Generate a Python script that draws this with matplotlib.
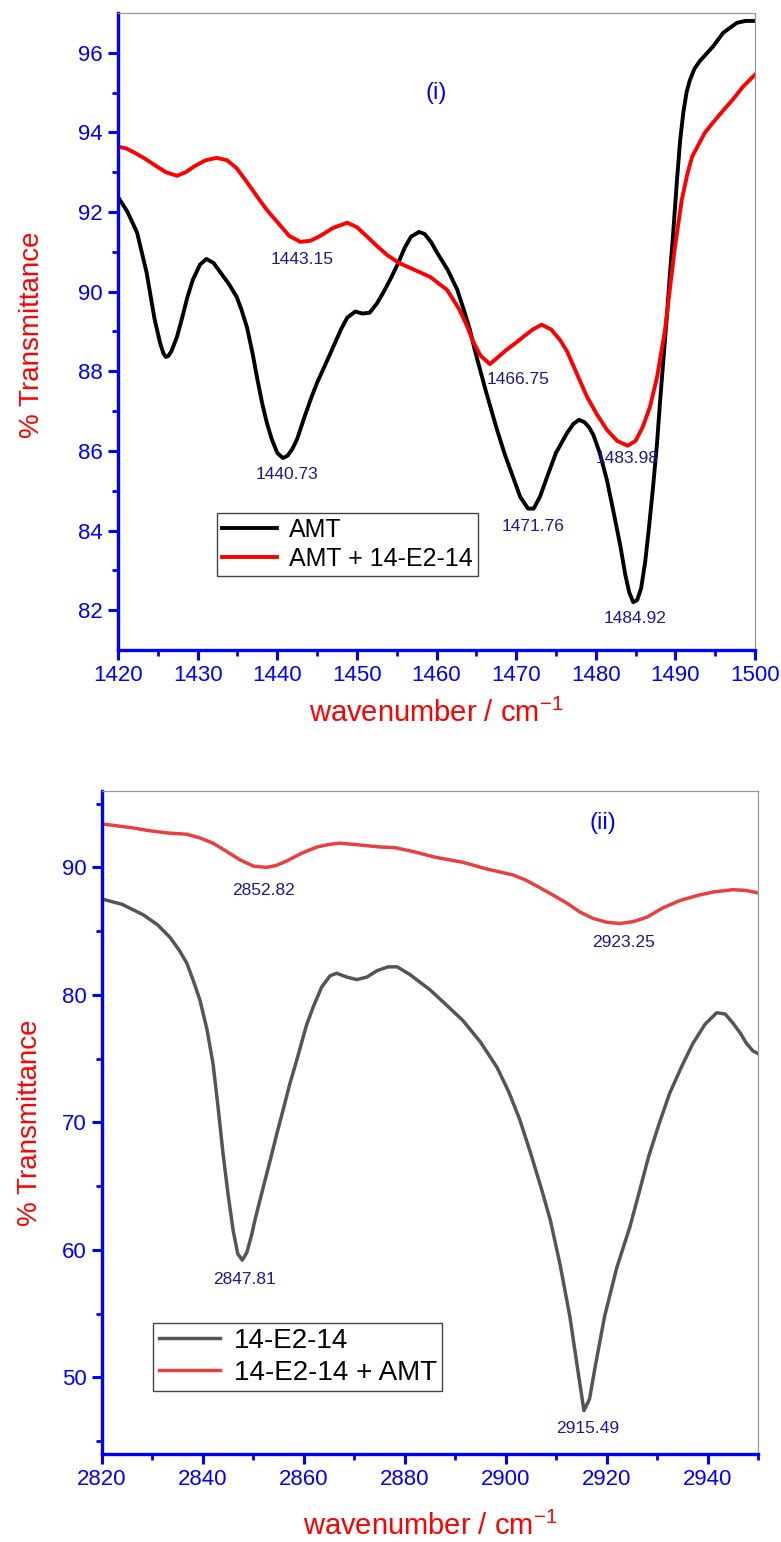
import numpy as np
import matplotlib
matplotlib.use('Agg')
import matplotlib.pyplot as plt
from matplotlib.ticker import FixedLocator

plt.rcParams['font.family'] = ['Liberation Sans', 'DejaVu Sans']
plt.rcParams['mathtext.fontset'] = 'custom'
plt.rcParams['mathtext.rm'] = 'Liberation Sans'

# ---- panel (i) data: AMT and AMT + 14-E2-14, 1420-1500 cm-1 ----
amt_x = [1420, 1421.2, 1422.4, 1423.6, 1424.6, 1425.3, 1425.7, 1426, 1426.3, 1426.7,
         1427.4, 1428, 1428.7, 1429.4, 1430.3, 1431.1, 1432, 1432.8, 1433.9, 1434.9,
         1435.5, 1436.2, 1436.9, 1437.5, 1438.1, 1438.7, 1439.3, 1440, 1440.7, 1441.3,
         1441.9, 1442.5, 1443.5, 1444.3, 1445, 1446, 1447, 1448, 1448.8, 1449.8,
         1450.7, 1451.6, 1452.5, 1453.3, 1454.3, 1455.2, 1456, 1456.8, 1457.8, 1458.5,
         1459.3, 1460.1, 1461.4, 1462.6, 1463.5, 1464.2, 1464.8, 1466.2, 1467.6, 1468.6,
         1469.6, 1470.5, 1471.5, 1472.2, 1473, 1473.9, 1475, 1476.4, 1477.2, 1477.9,
         1478.6, 1479.2, 1479.7, 1480.5, 1481.4, 1482.2, 1483.1, 1483.7, 1484.2, 1484.7,
         1485.2, 1485.7, 1486.2, 1486.7, 1487.2, 1487.7, 1488.1, 1488.5, 1488.9, 1489.3,
         1489.7, 1490.2, 1490.6, 1491, 1491.4, 1491.8, 1492.4, 1493.1, 1494.7, 1496,
         1497.7, 1498.8, 1500]
amt_y = [92.38, 92.0, 91.48, 90.47, 89.3, 88.7, 88.45, 88.36, 88.38, 88.5,
         88.86, 89.3, 89.85, 90.3, 90.68, 90.82, 90.72, 90.5, 90.2, 89.87,
         89.55, 89.1, 88.45, 87.8, 87.2, 86.7, 86.3, 85.95, 85.82, 85.88,
         86.05, 86.3, 86.9, 87.35, 87.71, 88.15, 88.6, 89.05, 89.35, 89.5,
         89.45, 89.47, 89.7, 89.97, 90.35, 90.72, 91.1, 91.38, 91.5, 91.45,
         91.25, 90.97, 90.55, 90.05, 89.5, 89.04, 88.54, 87.5, 86.53, 85.9,
         85.35, 84.85, 84.55, 84.55, 84.85, 85.35, 85.95, 86.45, 86.68, 86.78,
         86.72, 86.58, 86.4, 85.95, 85.27, 84.5, 83.6, 82.9, 82.45, 82.2,
         82.25, 82.55, 83.2, 84.1, 85.1, 86.2, 87.3, 88.3, 89.3, 90.4,
         91.4, 92.8, 93.8, 94.5, 95.0, 95.3, 95.6, 95.8, 96.15, 96.5,
         96.75, 96.8, 96.8]

mix1_x = [1420, 1421, 1422, 1423.3, 1424.6, 1426, 1427.4, 1428.5, 1429.6, 1431,
          1432.4, 1433.7, 1434.9, 1436.2, 1437.5, 1438.7, 1440, 1441.5, 1442.9, 1444.2,
          1445.4, 1447, 1448.8, 1450, 1451.3, 1452.5, 1453.8, 1455.3, 1457.2, 1459.2,
          1460.3, 1461.3, 1462.1, 1462.9, 1463.8, 1464.6, 1465.5, 1466.7, 1467.7, 1468.8,
          1470, 1471, 1472.1, 1473.2, 1474.4, 1475.5, 1476.4, 1477.6, 1478.9, 1480.2,
          1481.4, 1482.7, 1484, 1485, 1485.9, 1486.8, 1487.7, 1488.7, 1489.9, 1490.8,
          1491.5, 1492.1, 1493.7, 1494.7, 1496, 1497.2, 1498.5, 1500]
mix1_y = [93.64, 93.6, 93.5, 93.35, 93.18, 93.0, 92.91, 93.0, 93.15, 93.3,
          93.36, 93.3, 93.1, 92.75, 92.38, 92.05, 91.75, 91.4, 91.25, 91.28,
          91.4, 91.6, 91.73, 91.62, 91.38, 91.15, 90.92, 90.72, 90.55, 90.37,
          90.2, 90.05, 89.8, 89.54, 89.15, 88.75, 88.4, 88.18, 88.35, 88.54,
          88.72, 88.88, 89.05, 89.17, 89.05, 88.79, 88.5, 87.95, 87.36, 86.9,
          86.53, 86.25, 86.13, 86.25, 86.6, 87.1, 87.85, 89.04, 91.05, 92.3,
          92.95, 93.39, 93.99, 94.24, 94.55, 94.82, 95.15, 95.45]

peaks1_x = [1443.1, 1441.2, 1470.2, 1472.1, 1483.9, 1484.9]
peaks1_y = [90.8, 85.4, 87.8, 84.1, 85.8, 81.8]
peaks1_lbl = ['1443.15', '1440.73', '1466.75', '1471.76', '1483.98', '1484.92']

# ---- panel (ii) data: 14-E2-14 and 14-E2-14 + AMT, 2820-2950 cm-1 ----
gem_x = [2820.2, 2824, 2828.1, 2831, 2833.5, 2835.3, 2836.8, 2838.2, 2839.4, 2840.8,
         2842, 2843, 2844, 2845, 2846, 2846.9, 2847.8, 2848.7, 2849.6, 2850.4,
         2851.3, 2852.4, 2853.5, 2854.7, 2855.9, 2857.2, 2858.6, 2860.5, 2861.8, 2863.5,
         2865.2, 2866.5, 2868.5, 2870.5, 2872.5, 2874.5, 2876.7, 2878.5, 2881, 2885,
         2888, 2891.5, 2895, 2898.3, 2900.6, 2902.8, 2905, 2907, 2908.8, 2910.8,
         2912.7, 2914.2, 2915.5, 2916.6, 2917.8, 2919.6, 2922, 2924.6, 2926.5, 2928.3,
         2930.4, 2932.5, 2935, 2937.1, 2939.5, 2941.8, 2943.5, 2945, 2946.5, 2947.7,
         2949, 2950]
gem_y = [87.5, 87.1, 86.3, 85.5, 84.5, 83.5, 82.5, 81.0, 79.6, 77.3,
         74.6, 71.2, 67.5, 64.3, 61.5, 59.7, 59.2, 59.8, 61.1, 62.5,
         63.9, 65.6, 67.3, 69.2, 71.0, 73.0, 74.9, 77.6, 79.0, 80.6,
         81.5, 81.7, 81.4, 81.2, 81.4, 81.9, 82.2, 82.2, 81.6, 80.4,
         79.3, 78.0, 76.3, 74.3, 72.4, 70.2, 67.5, 64.9, 62.4, 58.8,
         54.8, 50.8, 47.4, 48.3, 51.0, 54.8, 58.6, 61.8, 64.6, 67.3,
         69.9, 72.3, 74.5, 76.2, 77.7, 78.6, 78.5, 77.8, 77.0, 76.2,
         75.6, 75.4]

mix2_x = [2820.2, 2826.1, 2829, 2832.9, 2836.8, 2839.5, 2842, 2844.5, 2847.3, 2850,
          2852.6, 2854.5, 2856.6, 2859.5, 2862.6, 2865, 2867.1, 2870, 2872.5, 2875.1,
          2878, 2881.6, 2886, 2891.5, 2896, 2901.5, 2904, 2906.8, 2909.5, 2912.1,
          2914.7, 2917.3, 2920, 2922.6, 2925.3, 2928, 2931, 2934.5, 2938, 2941.1,
          2945, 2947.5, 2950]
mix2_y = [93.4, 93.1, 92.9, 92.7, 92.6, 92.3, 91.9, 91.3, 90.6, 90.1,
          90.0, 90.15, 90.5, 91.1, 91.6, 91.8, 91.9, 91.8, 91.7, 91.6,
          91.55, 91.25, 90.8, 90.4, 89.9, 89.4, 89.0, 88.4, 87.8, 87.2,
          86.5, 86.0, 85.7, 85.6, 85.75, 86.1, 86.8, 87.4, 87.8, 88.07,
          88.25, 88.2, 88.0]

peaks2_x = [2852.1, 2923.3, 2848.3, 2916.3]
peaks2_y = [88.2, 84.1, 57.7, 46.0]
peaks2_lbl = ['2852.82', '2923.25', '2847.81', '2915.49']

blue = '#0000ff'
navy = '#1a1a8c'

fig = plt.figure(figsize=(7.81, 15.42), dpi=100)
ax1 = fig.add_axes([0.1511, 0.5785, 0.8156, 0.4131])
ax2 = fig.add_axes([0.1306, 0.0571, 0.8400, 0.4300])


def style_axes(ax):
    for side in ['top', 'right']:
        ax.spines[side].set_color('#999999')
        ax.spines[side].set_linewidth(0.9)
    for side in ['left', 'bottom']:
        ax.spines[side].set_color(blue)
        ax.spines[side].set_linewidth(2.4)
    ax.tick_params(which='both', direction='out', color=blue, labelcolor=blue,
                   top=False, right=False)
    ax.tick_params(which='major', length=7, width=2.2, labelsize=16, pad=4)
    ax.tick_params(which='minor', length=4, width=2.0)
    ax.set_xlabel('wavenumber / cm$^{\\mathregular{-1}}$', color='red', fontsize=21)
    ax.set_ylabel('% Transmittance', color='red', fontsize=20)


# ---- panel (i) ----
ax1.plot(amt_x, amt_y, color='black', lw=2.8, label='AMT', solid_joinstyle='round')
ax1.plot(mix1_x, mix1_y, color='#ff0000', lw=2.8, label='AMT + 14-E2-14',
         solid_joinstyle='round')
for xx, yy, s in zip(peaks1_x, peaks1_y, peaks1_lbl):
    ax1.text(xx, yy, s, color=navy, fontsize=12.5, ha='center', va='center')
ax1.text(0.50, 0.875, '(i)', transform=ax1.transAxes, color=blue, fontsize=17,
         ha='center', va='center')
ax1.set_xlim(1420, 1500)
ax1.set_ylim(81, 97)
ax1.set_xticks(np.arange(1420, 1501, 10))
ax1.set_yticks(np.arange(82, 97, 2))
ax1.xaxis.set_minor_locator(FixedLocator(np.arange(1425, 1500, 10)))
ax1.yaxis.set_minor_locator(FixedLocator(np.arange(83, 96, 2)))
style_axes(ax1)
ax1.yaxis.set_label_coords(-0.135, 0.495)
ax1.yaxis.label.set_verticalalignment('center')
ax1.xaxis.set_label_coords(0.5, -0.099)
ax1.xaxis.label.set_verticalalignment('center')
leg1 = ax1.legend(loc='upper left', bbox_to_anchor=(0.155, 0.215), borderaxespad=0,
                  fontsize=18, fancybox=False, framealpha=1, edgecolor='#444444',
                  handlelength=2.2, handletextpad=0.5, borderpad=0.2, labelspacing=0.2)
leg1.get_frame().set_linewidth(1.0)

# ---- panel (ii) ----
ax2.plot(gem_x, gem_y, color='#555555', lw=2.5, label='14-E2-14', solid_joinstyle='round')
ax2.plot(mix2_x, mix2_y, color='#e84040', lw=2.5, label='14-E2-14 + AMT',
         solid_joinstyle='round')
for xx, yy, s in zip(peaks2_x, peaks2_y, peaks2_lbl):
    ax2.text(xx, yy, s, color=navy, fontsize=12.5, ha='center', va='center')
ax2.text(0.763, 0.951, '(ii)', transform=ax2.transAxes, color=blue, fontsize=17,
         ha='center', va='center')
ax2.set_xlim(2820, 2950)
ax2.set_ylim(44, 96)
ax2.set_xticks(np.arange(2820, 2941, 20))
ax2.set_yticks(np.arange(50, 91, 10))
ax2.xaxis.set_minor_locator(FixedLocator(np.arange(2830, 2951, 20)))
ax2.yaxis.set_minor_locator(FixedLocator(np.arange(45, 96, 10)))
style_axes(ax2)
ax2.yaxis.set_label_coords(-0.11, 0.5)
ax2.yaxis.label.set_verticalalignment('center')
ax2.xaxis.set_label_coords(0.5, -0.110)
ax2.xaxis.label.set_verticalalignment('center')
leg2 = ax2.legend(loc='upper left', bbox_to_anchor=(0.078, 0.198), borderaxespad=0,
                  fontsize=20, fancybox=False, framealpha=1, edgecolor='#444444',
                  handlelength=2.2, handletextpad=0.5, borderpad=0.2, labelspacing=0.2)
leg2.get_frame().set_linewidth(1.0)

fig.savefig('out.png', dpi=100)
